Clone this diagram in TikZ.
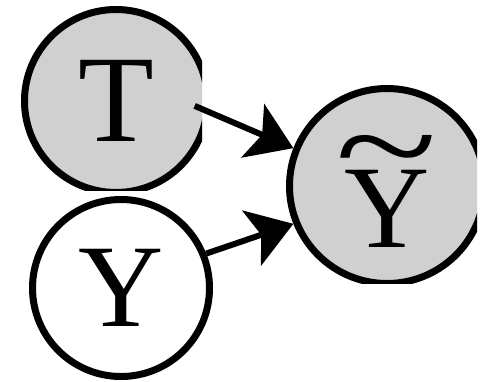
\documentclass[tikz,border=0pt]{standalone}
\usepackage{fontspec}
\setmainfont{Liberation Serif}
\usepackage{tikz}
\usetikzlibrary{arrows.meta}
\definecolor{nodegray}{RGB}{208,208,208}

\begin{document}
\begin{tikzpicture}[x=1pt, y=-1pt,
  var/.style={circle, draw=black, line width=7pt, inner sep=0pt, font=\fontsize{118}{118}\selectfont},
  obs/.style={var, fill=nodegray},
  edge/.style={line width=6pt, -{Stealth[length=44pt, width=58pt, inset=10pt]}}]
\useasboundingbox (0,0) rectangle (492,381);
% observed variables, cut off at the edges
\begin{scope}
\clip (0,0) rectangle (202,190);
\node[obs, minimum size=183pt, font=\fontsize{124}{124}\selectfont] (T) at (116,101) {T};
\end{scope}
\begin{scope}
\clip (250,0) rectangle (477,283);
\node[obs, minimum size=195pt] (Yt) at (387,186)
  {\rule{0pt}{122pt}\ooalign{Y\cr\hidewidth\raisebox{56pt}{\scalebox{1.6}[1.15]{\char"7E}}\hidewidth\cr}};
\end{scope}
% latent variable
\node[var, fill=white, minimum size=177pt] (Y) at (121,288) {Y};
\draw[edge, shorten <=-17pt] (T.-7) -- (Yt.158);
\draw[edge] (Y.22) -- (Yt.202);
\end{tikzpicture}
\end{document}
